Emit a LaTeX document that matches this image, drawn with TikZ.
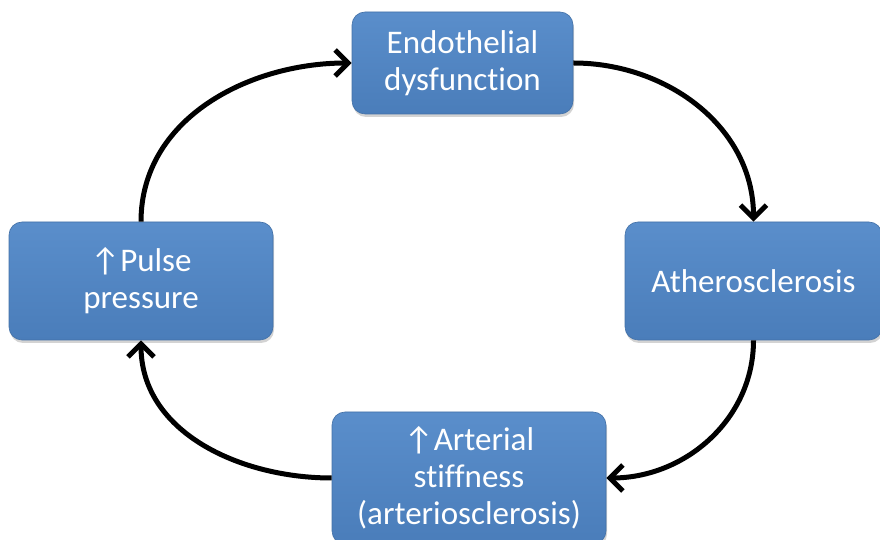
\documentclass[tikz,border=0pt]{standalone}
\usepackage{fontspec}
\setmainfont{Carlito}[Ligatures=CommonOff]
\usetikzlibrary{arrows.meta,shadows}
\definecolor{boxtop}{HTML}{5A8ECB}
\definecolor{boxbot}{HTML}{4A7DBA}

\begin{document}
\begin{tikzpicture}[x=1pt, y=1pt,
  every node/.style={font=\fontsize{33}{37}\selectfont},
  stage/.style={rounded corners=13pt, align=center, text=white, top color=boxtop, bottom color=boxbot,
    draw=boxbot!90!black, line width=0.6pt, drop shadow={shadow xshift=1pt, shadow yshift=-3pt, opacity=0.35}},
  cycle/.style={-{Straight Barb[length=13pt, width=26pt, line width=5pt]}, line width=5pt}
]
\useasboundingbox (0,0) rectangle (880,540);
\node[stage, minimum width=221pt, minimum height=102pt] (endo) at (462.5,477) {Endothelial\\dysfunction};
\node[stage, minimum width=257pt, minimum height=118pt] (athero) at (753.5,259) {Atherosclerosis};
\node[stage, minimum width=274pt, minimum height=132pt] (stiff) at (469,62) {↑Arterial\\stiffness\\(arteriosclerosis)};
\node[stage, minimum width=264pt, minimum height=118pt] (pulse) at (141,259) {↑Pulse\\pressure};

\draw[cycle] (pulse.north) to[out=90, in=180] (endo.west);
\draw[cycle] (endo.east) to[out=0, in=90] (athero.north);
\draw[cycle] (athero.south) to[out=-90, in=0] (stiff.east);
\draw[cycle] (stiff.west) to[out=180, in=-90] (pulse.south);
\end{tikzpicture}
\end{document}
